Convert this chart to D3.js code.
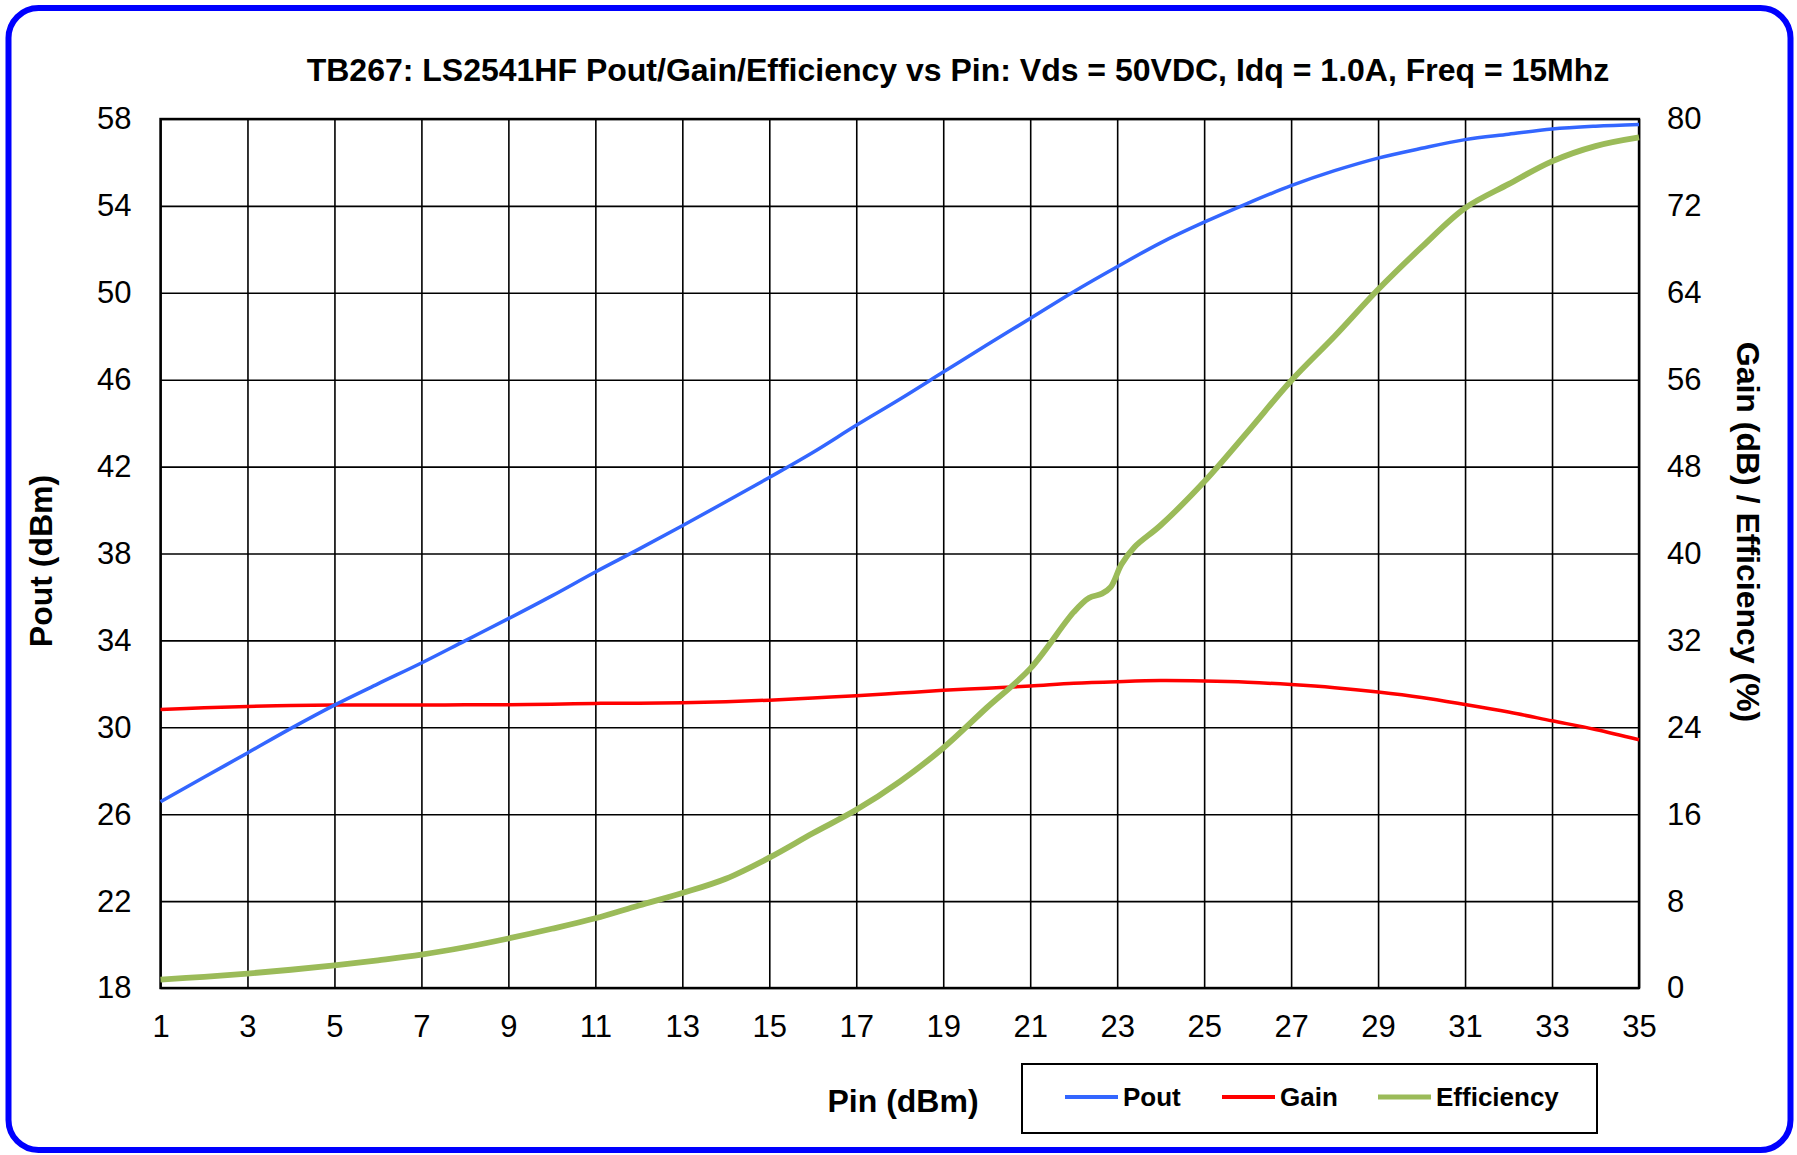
<!DOCTYPE html>
<html>
<head>
<meta charset="utf-8">
<script src="https://cdn.jsdelivr.net/npm/d3@7"></script>
<style>
  html, body { margin: 0; padding: 0; background: #fff; }
  svg { display: block; font-family: "Liberation Sans", Arial, sans-serif; }
</style>
</head>
<body>
<svg id="chart" width="1797" height="1155"></svg>
<script>
// ---------- data ----------
const pin = [1,2,3,4,5,6,7,8,9,10,11,12,13,14,15,16,17,18,19,20,21,22,23,24,25,26,27,28,29,30,31,32,33,34,35];
const pout = [26.57,27.7,28.82,29.95,31.02,32.0,32.96,33.98,35.0,36.05,37.15,38.2,39.28,40.38,41.5,42.65,43.9,45.1,46.35,47.6,48.82,50.05,51.2,52.3,53.25,54.12,54.93,55.62,56.2,56.65,57.05,57.3,57.54,57.67,57.75];
const gain = [25.64,25.8,25.92,26.0,26.05,26.05,26.05,26.07,26.08,26.12,26.2,26.22,26.25,26.35,26.5,26.7,26.9,27.15,27.4,27.6,27.8,28.05,28.2,28.3,28.26,28.15,27.94,27.65,27.25,26.75,26.1,25.4,24.6,23.8,22.85];
const effPin = [1,2,3,4,5,6,7,8,9,10,11,12,13,14,15,16,17,18,19,20,21,22,22.35,22.65,22.85,23.1,23.4,24,25,26,27,28,29,30,31,32,33,34,35];
const efficiency = [0.78,1.03,1.33,1.68,2.08,2.55,3.07,3.75,4.56,5.45,6.42,7.6,8.74,10.06,12.0,14.24,16.4,19.0,22.1,25.8,29.4,34.6,35.9,36.3,36.9,39.0,40.6,42.6,46.6,51.2,55.9,60.0,64.3,68.2,71.8,74.0,76.1,77.5,78.3];

const xTicks = [1,3,5,7,9,11,13,15,17,19,21,23,25,27,29,31,33,35];
const leftTicks = [18,22,26,30,34,38,42,46,50,54,58];
const rightTicks = [0,8,16,24,32,40,48,56,64,72,80];

const titleText = "TB267: LS2541HF Pout/Gain/Efficiency vs Pin: Vds = 50VDC, Idq = 1.0A, Freq = 15Mhz";
const xTitle = "Pin (dBm)";
const yLeftTitle = "Pout (dBm)";
const yRightTitle = "Gain (dB) / Efficiency (%)";
const seriesNames = ["Pout", "Gain", "Efficiency"];
const seriesColors = ["#3366ff", "#ff0000", "#9bbb59"];

// ---------- layout ----------
const svg = d3.select("#chart");
const L = 160.5, R = 1639, T = 119, B = 988;

svg.append("rect").attr("x", 0).attr("y", 0).attr("width", 1797).attr("height", 1155).attr("fill", "#fff");
svg.append("rect").attr("x", 8.5).attr("y", 8).attr("width", 1782).attr("height", 1142)
  .attr("rx", 30).attr("ry", 30).attr("fill", "none").attr("stroke", "#0000ff").attr("stroke-width", 6);

const x = d3.scaleLinear().domain([1, 35]).range([L, R]);
const yL = d3.scaleLinear().domain([18, 58]).range([B, T]);
const yR = d3.scaleLinear().domain([0, 80]).range([B, T]);

// gridlines
const grid = svg.append("g");
grid.append("g").attr("transform", `translate(0,${B})`)
  .call(d3.axisBottom(x).tickValues(xTicks).tickSize(-(B - T)).tickFormat(""))
  .call(g => g.select(".domain").remove())
  .call(g => g.selectAll("line").attr("stroke", "#000").attr("stroke-width", 1.6));
grid.append("g").attr("transform", `translate(${L},0)`)
  .call(d3.axisLeft(yL).tickValues(leftTicks).tickSize(-(R - L)).tickFormat(""))
  .call(g => g.select(".domain").remove())
  .call(g => g.selectAll("line").attr("stroke", "#000").attr("stroke-width", 1.6));

// plot border
svg.append("rect").attr("x", L).attr("y", T).attr("width", R - L).attr("height", B - T)
  .attr("fill", "none").attr("stroke", "#000").attr("stroke-width", 2.4);

// axes labels
const fontTick = "31px";
svg.append("g").attr("transform", `translate(0,${B})`)
  .call(d3.axisBottom(x).tickValues(xTicks).tickSize(0).tickPadding(27).tickFormat(d3.format("d")))
  .call(g => g.select(".domain").remove())
  .call(g => g.selectAll("text").attr("font-size", fontTick).attr("fill", "#000").attr("font-family", "Liberation Sans, Arial, sans-serif"));
svg.append("g").attr("transform", `translate(${L},0)`)
  .call(d3.axisLeft(yL).tickValues(leftTicks).tickSize(0).tickPadding(29).tickFormat(d3.format("d")))
  .call(g => g.select(".domain").remove())
  .call(g => g.selectAll("text").attr("font-size", fontTick).attr("fill", "#000").attr("font-family", "Liberation Sans, Arial, sans-serif"));
svg.append("g").attr("transform", `translate(${R},0)`)
  .call(d3.axisRight(yR).tickValues(rightTicks).tickSize(0).tickPadding(28).tickFormat(d3.format("d")))
  .call(g => g.select(".domain").remove())
  .call(g => g.selectAll("text").attr("font-size", fontTick).attr("fill", "#000").attr("font-family", "Liberation Sans, Arial, sans-serif"));

// lines
const curve = d3.curveCatmullRom.alpha(0.5);
const lineL = d3.line().x(d => x(d[0])).y(d => yL(d[1])).curve(curve);
const lineR = d3.line().x(d => x(d[0])).y(d => yR(d[1])).curve(curve);

svg.append("path").datum(d3.zip(pin, gain)).attr("d", lineR)
  .attr("fill", "none").attr("stroke", seriesColors[1]).attr("stroke-width", 3.5);
svg.append("path").datum(d3.zip(effPin, efficiency)).attr("d", lineR)
  .attr("fill", "none").attr("stroke", seriesColors[2]).attr("stroke-width", 5.8).attr("stroke-linejoin", "round");
svg.append("path").datum(d3.zip(pin, pout)).attr("d", lineL)
  .attr("fill", "none").attr("stroke", seriesColors[0]).attr("stroke-width", 3.5);

// titles
svg.append("text").attr("x", 958).attr("y", 81).attr("text-anchor", "middle")
  .attr("font-size", "32px").attr("font-weight", "bold").text(titleText);
svg.append("text").attr("x", 903).attr("y", 1112).attr("text-anchor", "middle")
  .attr("font-size", "32px").attr("font-weight", "bold").text(xTitle);
svg.append("text").attr("transform", "translate(41,561) rotate(-90)").attr("dy", "0.35em")
  .attr("text-anchor", "middle").attr("font-size", "32px").attr("font-weight", "bold").text(yLeftTitle);
svg.append("text").attr("transform", "translate(1748,532) rotate(90)").attr("dy", "0.35em")
  .attr("text-anchor", "middle").attr("font-size", "32px").attr("font-weight", "bold").text(yRightTitle);

// legend
const lg = svg.append("g");
lg.append("rect").attr("x", 1022).attr("y", 1064).attr("width", 575).attr("height", 69)
  .attr("fill", "#fff").attr("stroke", "#000").attr("stroke-width", 2);
const legendItems = [
  {name: seriesNames[0], color: seriesColors[0], x0: 1065, w: 3.8},
  {name: seriesNames[1], color: seriesColors[1], x0: 1222, w: 3.8},
  {name: seriesNames[2], color: seriesColors[2], x0: 1378, w: 5.2}
];
legendItems.forEach(it => {
  lg.append("line").attr("x1", it.x0).attr("x2", it.x0 + 53).attr("y1", 1097).attr("y2", 1097)
    .attr("stroke", it.color).attr("stroke-width", it.w);
  lg.append("text").attr("x", it.x0 + 58).attr("y", 1097).attr("dy", "0.35em")
    .attr("font-size", "26px").attr("font-weight", "bold").text(it.name);
});
</script>
</body>
</html>
